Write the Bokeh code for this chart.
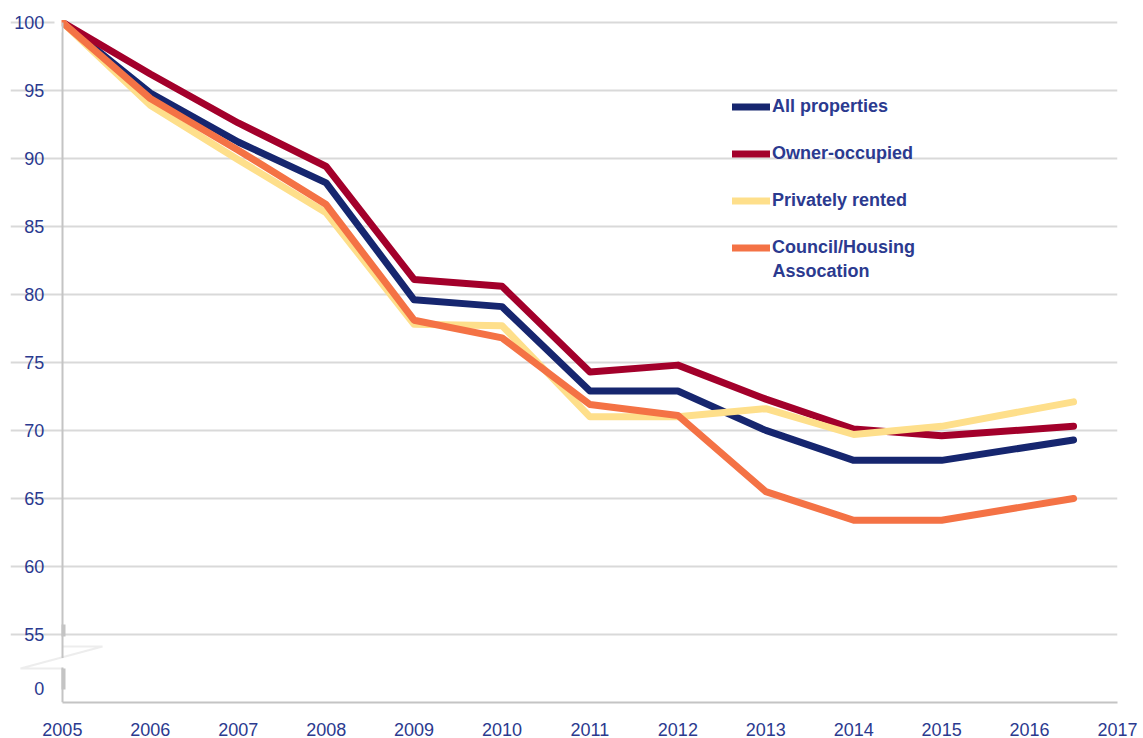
from bokeh.plotting import figure
from bokeh.models import (FixedTicker, Legend, LegendItem, BoxAnnotation,
                          PolyAnnotation, Range1d, Label)
from bokeh.embed import file_html
from bokeh.resources import INLINE

years = [2005, 2006, 2007, 2008, 2009, 2010, 2011, 2012, 2013, 2014, 2015, 2016.5]
all_properties = [100, 94.8, 91.2, 88.2, 79.6, 79.1, 72.9, 72.9, 70.0, 67.8, 67.8, 69.3]
owner_occupied = [100, 96.2, 92.6, 89.4, 81.1, 80.6, 74.3, 74.8, 72.3, 70.1, 69.6, 70.3]
privately_rented = [100, 93.9, 89.9, 86.0, 77.8, 77.7, 71.0, 71.0, 71.6, 69.7, 70.3, 72.1]
council_housing = [100, 94.4, 90.6, 86.6, 78.1, 76.8, 71.9, 71.1, 65.5, 63.4, 63.4, 65.0]

series_names = ["All properties", "Owner-occupied", "Privately rented", "Council/Housing"]
last_name_line2 = "Assocation"
series_values = [all_properties, owner_occupied, privately_rented, council_housing]
series_colors = ["#16266f", "#a3002b", "#fedf8b", "#f47245"]

x_ticks = list(range(2005, 2018))
y_ticks = [51, 55, 60, 65, 70, 75, 80, 85, 90, 95, 100]
y_grid_ticks = [55, 60, 65, 70, 75, 80, 85, 90, 95, 100]
y_label_overrides = {51: "0"}

X_START, X_END = 2004.41, 2017
Y_START, Y_END = 50, 100.5

TEXT = "#2b3a8f"
GRID = "#d9d9d9"
AXIS = "#c4c4c4"
FONT = "Liberation Sans"

p = figure(width=1143, height=738, output_backend="svg", toolbar_location=None,
           x_range=Range1d(X_START, X_END), y_range=Range1d(Y_START, Y_END),
           min_border_left=10, min_border_right=26, min_border_top=15,
           min_border_bottom=35)
p.outline_line_color = None
p.background_fill_color = "white"

p.xaxis.ticker = FixedTicker(ticks=x_ticks)
p.xaxis.bounds = (2005, 2017)
p.yaxis.ticker = FixedTicker(ticks=y_ticks)
p.yaxis.bounds = (50, 100)
p.yaxis.fixed_location = 2005
p.yaxis.major_label_overrides = y_label_overrides
for ax in (p.xaxis, p.yaxis):
    ax.major_tick_line_color = None
    ax.minor_tick_line_color = None
    ax.axis_line_color = AXIS
    ax.axis_line_width = 2
    ax.major_label_text_color = TEXT
    ax.major_label_text_font = FONT
    ax.major_label_text_font_size = "18px"
p.yaxis.major_label_standoff = 12
p.xaxis.major_label_standoff = 14

p.xgrid.grid_line_color = None
p.ygrid.ticker = FixedTicker(ticks=y_grid_ticks)
p.ygrid.bounds = (2005, 2017)
p.ygrid.grid_line_color = GRID
p.ygrid.grid_line_width = 2

renderers = []
for vals, col in zip(series_values, series_colors):
    r = p.line(years, vals, line_color=col, line_width=7,
               line_join="round", line_cap="round")
    renderers.append(r)

# screen-unit boxes relative to the frame (frame left = page x 10, bottom = page y 703;
# the y axis sits at frame x 52)
def sbox(l, r, b, t, color):
    return BoxAnnotation(left=l, right=r, bottom=b, top=t,
                         left_units="screen", right_units="screen",
                         bottom_units="screen", top_units="screen",
                         fill_color=color, fill_alpha=1, line_color=None)

# emulate the plot-area clipping of the line starts (left of axis / above 100)
p.add_layout(sbox(44, 51, 670, 688, "white"))
p.add_layout(sbox(44, 75, 682.5, 690, "white"))

# axis break decoration
p.add_layout(sbox(48, 56, 35, 44.5, "white"))
p.add_layout(sbox(51, 55, 66, 78, AXIS))
p.add_layout(sbox(51, 55, 13, 34, AXIS))
p.add_layout(PolyAnnotation(xs=[52, 92, 10, 52, 10, 92],
                            ys=[56, 56, 34, 34, 34, 56],
                            xs_units="screen", ys_units="screen",
                            fill_alpha=0, line_color=AXIS, line_width=2))

items = [LegendItem(label=n, renderers=[r]) for n, r in zip(series_names, renderers)]
legend = Legend(items=items, location=(722, 444),
                background_fill_alpha=0, border_line_color=None,
                padding=0, margin=0, spacing=26,
                glyph_width=38, glyph_height=21, label_standoff=2,
                label_text_font=FONT, label_text_font_size="18px",
                label_text_font_style="bold", label_text_color=TEXT)
p.add_layout(legend)
p.add_layout(Label(x=762, y=432, x_units="screen", y_units="screen",
                   text=last_name_line2, text_font=FONT, text_font_size="18px",
                   text_font_style="bold", text_color=TEXT,
                   text_baseline="middle", text_align="left"))

open("out.html", "w").write(file_html(p, INLINE))
